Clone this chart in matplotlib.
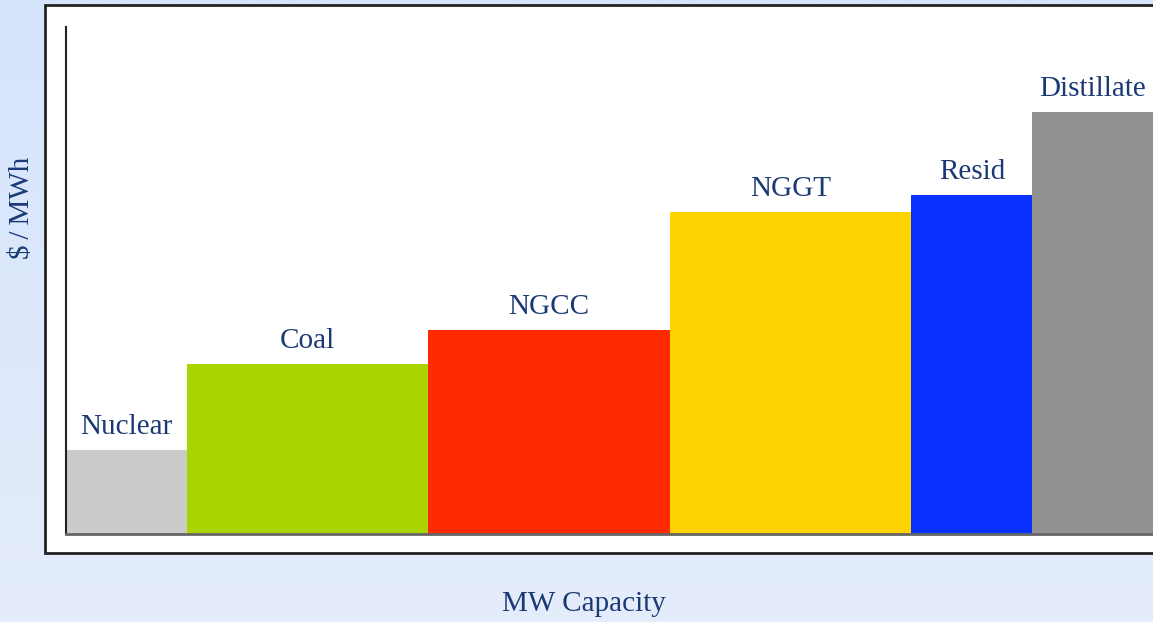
import numpy as np
import matplotlib.pyplot as plt
from matplotlib.patches import Rectangle

# supply stack: capacity block (MW) and marginal cost ($/MWh, relative)
fuels = ['Nuclear', 'Coal', 'NGCC', 'NGGT', 'Resid', 'Distillate']
capacity = [10, 20, 20, 20, 10, 10]
cost = [16.6, 33.5, 40.2, 63.5, 66.9, 83.2]
colors = ['#CBCBCB', '#AAD400', '#FF2A00', '#FFD300', '#0A32FF', '#929292']

text_color = '#1B3A74'
plt.rcParams['font.family'] = ['Liberation Serif', 'DejaVu Serif']

fig = plt.figure(figsize=(11.53, 6.22), dpi=100)

# light blue gradient background with a white panel
bg = fig.add_axes([0, 0, 1, 1], zorder=0)
grad = np.linspace(0, 1, 256).reshape(-1, 1)
bg.imshow(grad, aspect='auto', extent=[0, 1, 0, 1], origin='upper',
          cmap=plt.matplotlib.colors.LinearSegmentedColormap.from_list(
              'bgblue', ['#D5E3FB', '#E5EDFC']))
bg.add_patch(Rectangle((45 / 1153, 1 - 553 / 622), 1.2, (553 - 5) / 622,
                       facecolor='white', edgecolor='#222222', linewidth=2))
bg.set_xlim(0, 1)
bg.set_ylim(0, 1)
bg.axis('off')

ax = fig.add_axes([66 / 1153, 1 - 534 / 622, 1 - 66 / 1153, (534 - 27) / 622],
                  zorder=1)
ax.patch.set_alpha(0)

left = np.concatenate([[0], np.cumsum(capacity)[:-1]])
ax.bar(left, cost, width=capacity, align='edge', color=colors, linewidth=0)

for x, w, c, name in zip(left, capacity, cost, fuels):
    ax.annotate(name, (x + w / 2, c), xytext=(0, 7), textcoords='offset points',
                ha='center', va='bottom', fontsize=21, color=text_color)

ax.set_xlim(0, sum(capacity))
ax.set_ylim(0, 100)
ax.set_xticks([])
ax.set_yticks([])
ax.spines['top'].set_visible(False)
ax.spines['right'].set_visible(False)
ax.spines['left'].set_color('#222222')
ax.spines['left'].set_linewidth(1.5)
ax.spines['bottom'].set_color('#666666')
ax.spines['bottom'].set_linewidth(2)

fig.text(584 / 1153, 1 - 604 / 622, 'MW Capacity', ha='center', va='center',
         fontsize=21, color=text_color)
fig.text(22 / 1153, 1 - 208 / 622, '\\$\u2009/\u2009MWh', ha='center', va='center',
         rotation=90, fontsize=21, color=text_color)

fig.savefig('out.png', dpi=100)
